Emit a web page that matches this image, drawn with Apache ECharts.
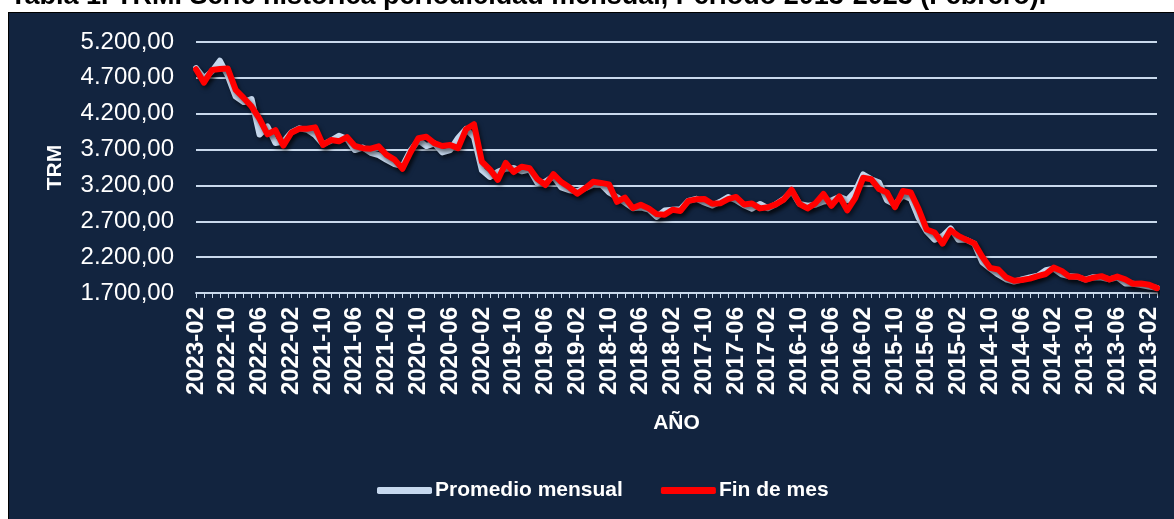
<!DOCTYPE html>
<html>
<head>
<meta charset="utf-8">
<script src="https://cdn.jsdelivr.net/npm/echarts@6/dist/echarts.min.js"></script>
<style>
html,body{margin:0;padding:0;background:#fff;width:1174px;height:519px;overflow:hidden;}
#panel{position:absolute;left:8px;top:12px;width:1170px;height:510px;background:#12243f;border:1px solid #000;box-sizing:border-box;}
#chart{position:absolute;left:0;top:0;width:1174px;height:519px;}
</style>
</head>
<body>
<div id="panel"></div>
<div id="chart"></div>
<script>
const titleText = 'Tabla 1. TRM. Serie histórica periodicidad mensual, Período 2013-2023 (Febrero).';
const seriesNames = ['Promedio mensual', 'Fin de mes'];
const months = [
'2023-02','2023-01',
'2022-12','2022-11','2022-10','2022-09','2022-08','2022-07','2022-06','2022-05','2022-04','2022-03','2022-02','2022-01',
'2021-12','2021-11','2021-10','2021-09','2021-08','2021-07','2021-06','2021-05','2021-04','2021-03','2021-02','2021-01',
'2020-12','2020-11','2020-10','2020-09','2020-08','2020-07','2020-06','2020-05','2020-04','2020-03','2020-02','2020-01',
'2019-12','2019-11','2019-10','2019-09','2019-08','2019-07','2019-06','2019-05','2019-04','2019-03','2019-02','2019-01',
'2018-12','2018-11','2018-10','2018-09','2018-08','2018-07','2018-06','2018-05','2018-04','2018-03','2018-02','2018-01',
'2017-12','2017-11','2017-10','2017-09','2017-08','2017-07','2017-06','2017-05','2017-04','2017-03','2017-02','2017-01',
'2016-12','2016-11','2016-10','2016-09','2016-08','2016-07','2016-06','2016-05','2016-04','2016-03','2016-02','2016-01',
'2015-12','2015-11','2015-10','2015-09','2015-08','2015-07','2015-06','2015-05','2015-04','2015-03','2015-02','2015-01',
'2014-12','2014-11','2014-10','2014-09','2014-08','2014-07','2014-06','2014-05','2014-04','2014-03','2014-02','2014-01',
'2013-12','2013-11','2013-10','2013-09','2013-08','2013-07','2013-06','2013-05','2013-04','2013-03','2013-02','2013-01'
];
const promedioMensual = [
4836,4695,4788,4939,4730,4438,4362,4404,3910,4021,
3791,3811,3939,3996,3975,3902,3774,3824,3891,3849,
3693,3728,3655,3623,3557,3497,3468,3686,3828,3749,
3787,3661,3694,3862,3987,3874,3411,3318,3389,3434,
3442,3398,3421,3235,3253,3324,3173,3132,3118,3162,
3211,3213,3102,3038,2962,2883,2893,2864,2763,2850,
2860,2868,2985,3013,2963,2921,2973,3039,2994,2923,
2875,2941,2882,2936,3009,3120,2942,2917,2929,2977,
2991,3040,2995,3115,3353,3287,3242,2993,2934,3061,
3015,2746,2559,2442,2494,2602,2441,2441,2387,2130,
2040,1958,1891,1859,1888,1917,1941,2018,2039,1960,
1933,1923,1885,1920,1915,1891,1918,1834,1829,1812,
1790,1772
];
const finDeMes = [
4820,4633,4810,4823,4830,4532,4420,4300,4127,3912,
3970,3756,3935,3990,3990,4010,3764,3834,3815,3875,
3750,3720,3712,3745,3625,3560,3432,3660,3858,3879,
3790,3750,3765,3720,3983,4054,3530,3423,3277,3514,
3386,3462,3440,3287,3206,3357,3247,3174,3085,3160,
3250,3235,3215,2972,3030,2885,2931,2880,2800,2790,
2860,2844,2984,3006,3012,2945,2950,3010,3040,2935,
2948,2880,2896,2936,3001,3140,2940,2880,2953,3080,
2916,3048,2852,3022,3306,3287,3149,3101,2897,3122,
3101,2866,2585,2544,2388,2577,2496,2441,2392,2206,
2050,2028,1918,1872,1881,1900,1935,1965,2054,2008,
1926,1931,1884,1914,1935,1890,1929,1891,1828,1832,
1816,1768
];
const yMin = 1700, yMax = 5200, yStep = 500;

function fmt(v){
  const s = Math.round(v).toString();
  const t = s.replace(/\B(?=(\d{3})+(?!\d))/g, '.');
  return t + ',00';
}

const chart = echarts.init(document.getElementById('chart'), null, {renderer:'canvas'});
const FONT = '"Liberation Sans", Arial, sans-serif';
const shadow = {shadowColor:'rgba(0,0,0,0.55)', shadowBlur:4, shadowOffsetX:2, shadowOffsetY:3};
chart.setOption({
  backgroundColor:'transparent',
  animation:false,
  graphic:[{
    type:'text', left:10, top:-17,
    style:{text:titleText, font:'bold 27px ' + FONT, fill:'#000'}
  }],
  grid:{left:196, right:17, top:42, bottom:226, containLabel:false},
  legend:{
    left:372, top:475, itemWidth:55, itemHeight:7, itemGap:38,
    icon:'roundRect',
    textStyle:{color:'#fff', fontSize:21, fontWeight:'bold', fontFamily:FONT, padding:[0,0,0,-2]},
    data:seriesNames
  },
  xAxis:{
    type:'category', data:months, boundaryGap:false,
    name:'AÑO', nameLocation:'middle', nameGap:120,
    nameTextStyle:{color:'#fff', fontWeight:'bold', fontSize:21, fontFamily:FONT},
    axisLine:{show:true, lineStyle:{color:'#c9d9ec', width:2}},
    axisTick:{show:true, interval:0, length:5, alignWithLabel:true, lineStyle:{color:'#c9d9ec', width:1}},
    axisLabel:{interval:3, rotate:90, color:'#fff', fontWeight:'bold', fontSize:24, fontFamily:FONT, margin:14},
    splitLine:{show:false}
  },
  yAxis:{
    type:'value', min:yMin, max:yMax, interval:yStep,
    name:'TRM', nameLocation:'middle', nameGap:130, nameRotate:90,
    nameTextStyle:{color:'#fff', fontWeight:'bold', fontSize:21, fontFamily:FONT},
    axisLine:{show:false}, axisTick:{show:false},
    axisLabel:{color:'#fff', fontSize:24, fontFamily:FONT, margin:22, formatter:fmt},
    splitLine:{show:true, lineStyle:{color:'#c9d9ec', width:2}}
  },
  series:[
    {name:seriesNames[0], type:'line', data:promedioMensual, symbol:'none', color:'#c6d8ee',
     lineStyle:Object.assign({color:'#c6d8ee', width:6, join:'round', cap:'round'}, shadow), z:3},
    {name:seriesNames[1], type:'line', data:finDeMes, symbol:'none', color:'#ff0000',
     lineStyle:Object.assign({color:'#ff0000', width:6, join:'round', cap:'round'}, shadow), z:4}
  ]
});
</script>
</body>
</html>
